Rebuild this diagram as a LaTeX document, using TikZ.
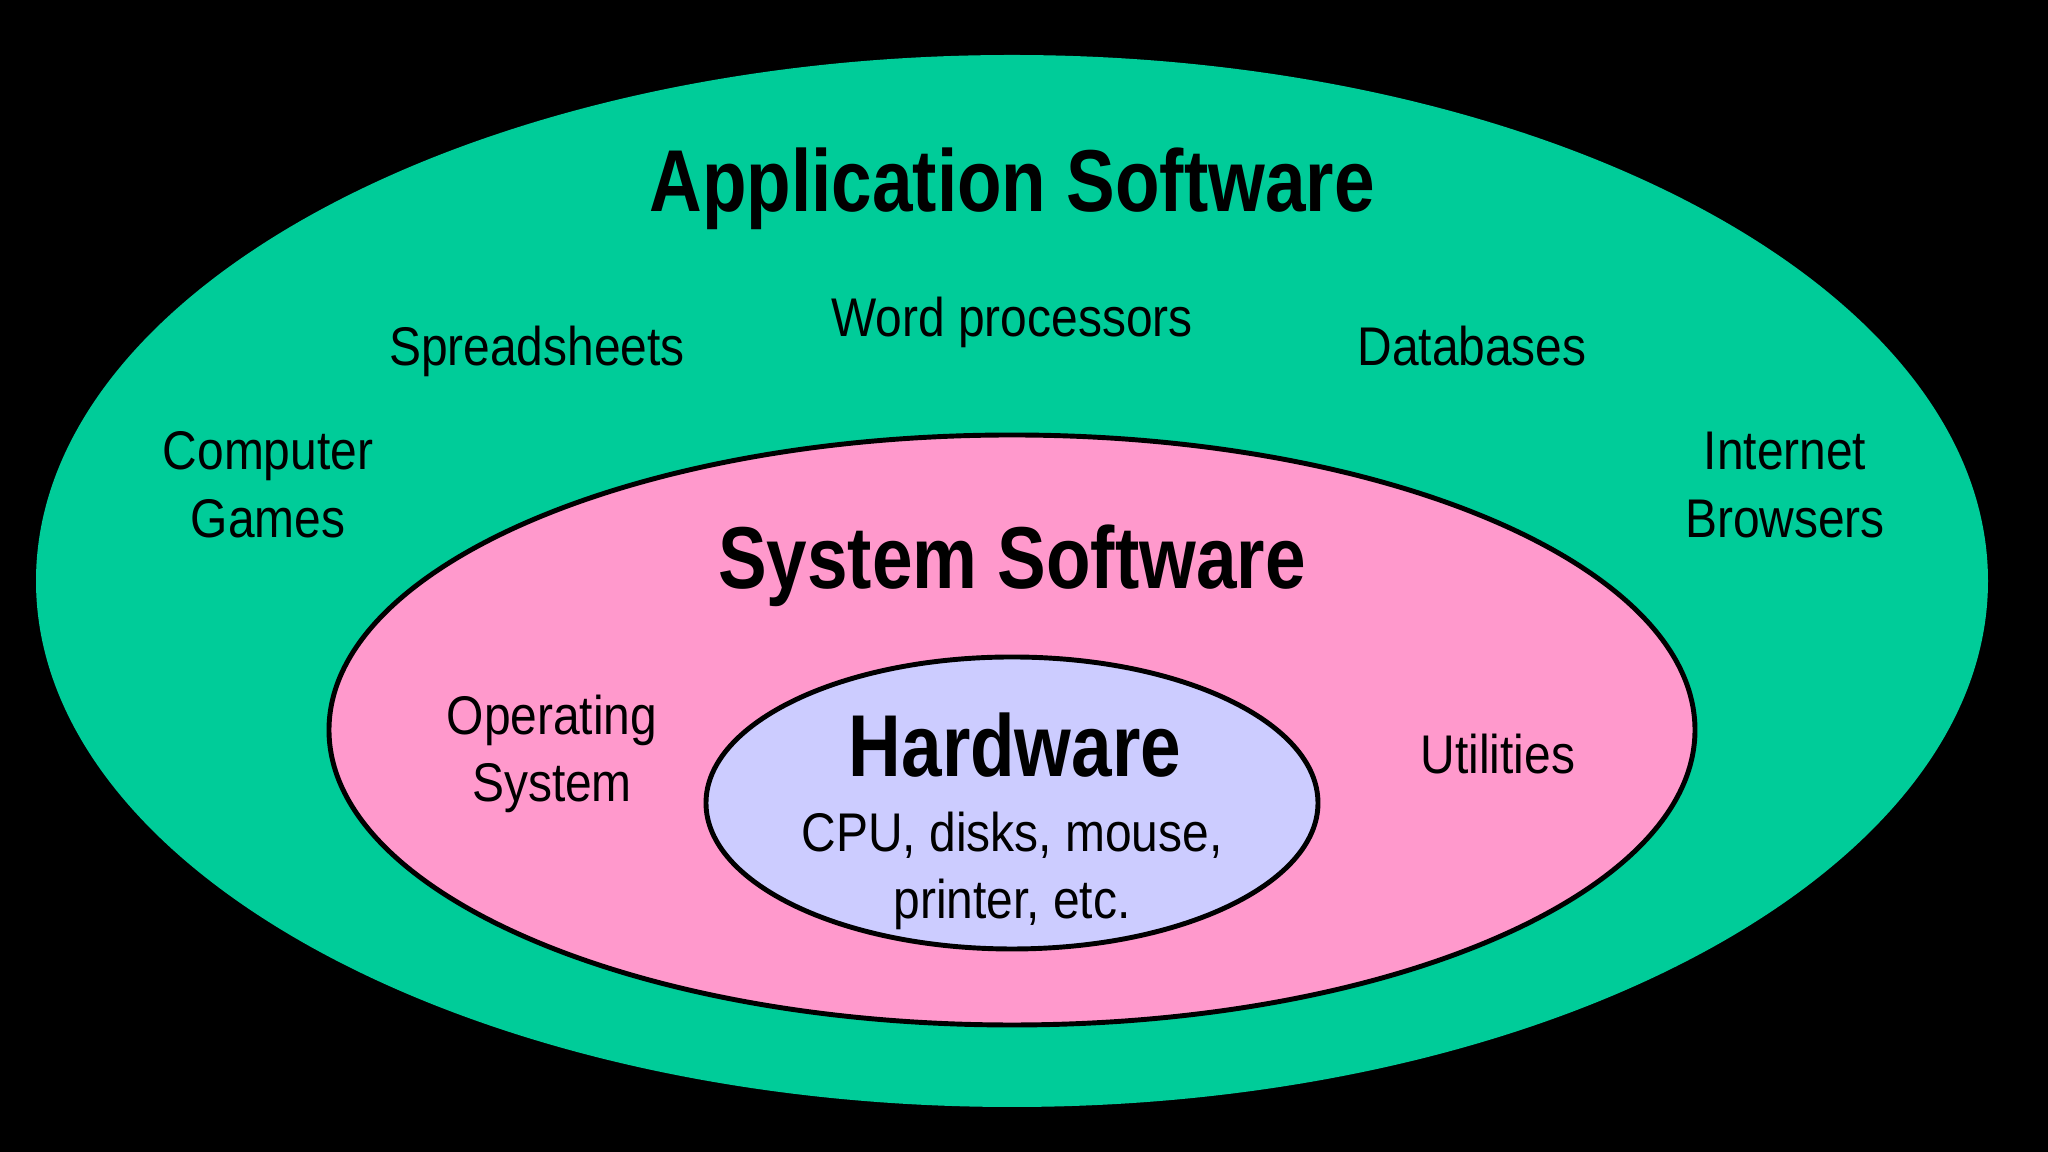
\documentclass[tikz,border=0pt]{standalone}
\usepackage{fontspec}
\setmainfont{Liberation Sans}[FakeStretch=0.88]
\newfontfamily\headfont{Liberation Sans}[FakeStretch=0.83]
\definecolor{appgreen}{RGB}{0,204,153}
\definecolor{syspink}{RGB}{255,153,204}
\definecolor{hwlilac}{RGB}{204,204,255}
\tikzset{
  itemtext/.style={align=center,font=\fontsize{15.5}{19.3}\selectfont},
  headtext/.style={font=\headfont\bfseries\fontsize{25}{30}\selectfont}
}

\begin{document}
\begin{tikzpicture}
      \fill[black] (0,0) rectangle (20.48,11.52);
      \useasboundingbox (0,0) rectangle (20.48,11.52);
      % layers
      \fill[appgreen] (10.12,5.71) ellipse [x radius=9.76, y radius=5.26];
      \draw[line width=1.4pt,fill=syspink] (10.12,4.22) ellipse [x radius=6.83, y radius=2.95];
      \draw[line width=1.4pt,fill=hwlilac] (10.12,3.49) ellipse [x radius=3.06, y radius=1.46];
      % application software
      \node[headtext,anchor=base] (app) at (10.12,9.40) {Application Software};
      \node[itemtext,anchor=base] (word) at (10.12,8.15) {Word processors};
      \node[itemtext,anchor=base] (sheets) at (5.37,7.86) {Spreadsheets};
      \node[itemtext,anchor=base] (db) at (14.72,7.86) {Databases};
      \node[itemtext] (games) at (2.68,6.67) {Computer\\Games};
      \node[itemtext] (browsers) at (17.85,6.67) {Internet\\Browsers};
      % system software
      \node[headtext,anchor=base] (sys) at (10.12,5.63) {System Software};
      \node[itemtext] (os) at (5.52,3.98) {Operating\\System};
      \node[itemtext,anchor=base] (util) at (14.98,3.78) {Utilities};
      % hardware
      \node[headtext,anchor=base] (hw) at (10.15,3.75) {Hardware};
      \node[itemtext] (devices) at (10.12,2.81) {CPU, disks, mouse,\\printer, etc.};
\end{tikzpicture}
\end{document}
